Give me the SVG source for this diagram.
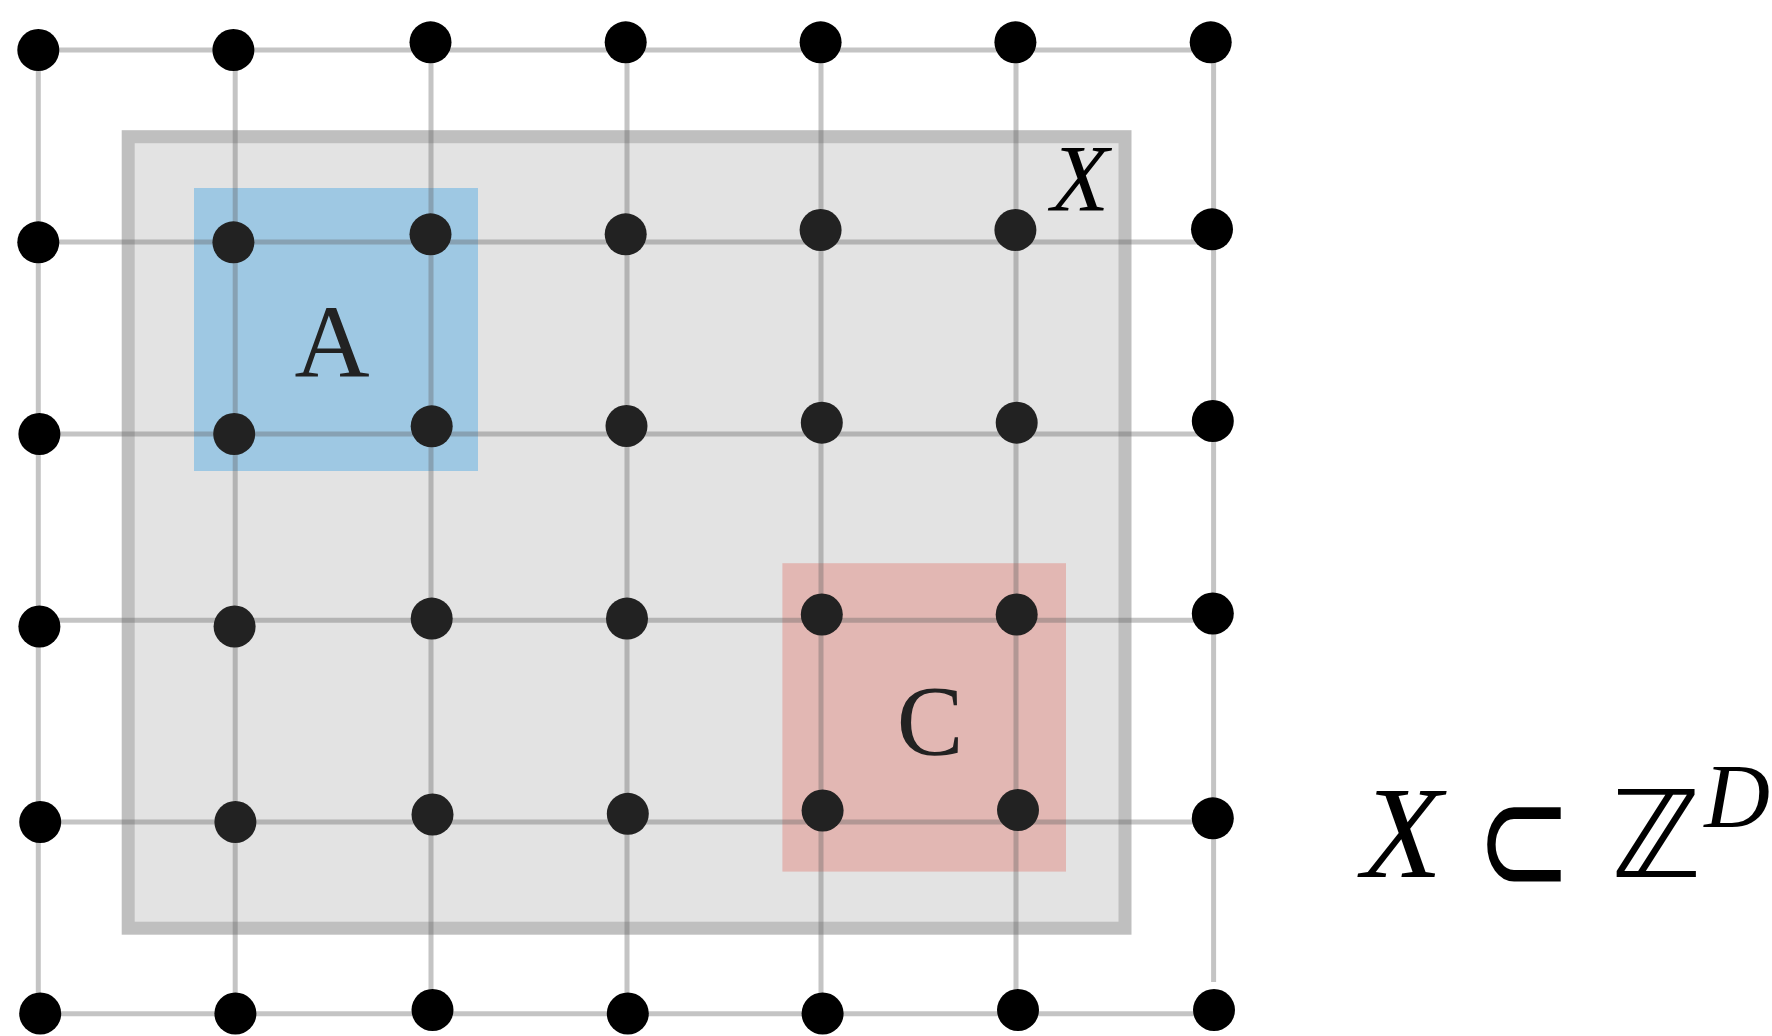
<svg xmlns="http://www.w3.org/2000/svg" width="1772" height="1036" viewBox="0 0 1772 1036">
<style>
.lbl{font-family:'Liberation Serif','Times New Roman',serif;fill:#222}
.it{font-family:'Liberation Serif','Times New Roman',serif;font-style:italic;fill:#000}
.out{fill:#000}
.in{fill:#222}
</style>
<rect width="1772" height="1036" fill="#fff"/>
<g id="region-X">
<rect x="128.2" y="136.7" width="996.8" height="791.5" fill="#e3e3e3" stroke="#bfbfbf" stroke-width="13"/>
</g>
<g id="region-A">
<rect x="194" y="188" width="284" height="283" fill="#9ec8e3"/>
</g>
<g id="region-C">
<rect x="782.4" y="563.2" width="283.6" height="308.4" fill="#e2b7b3"/>
</g>
<g id="connectors" stroke="#5f5f5f" stroke-width="5" opacity="0.36" fill="none">
<line x1="38.3" y1="50" x2="1211" y2="50"/>
<line x1="38.3" y1="242" x2="1212" y2="242"/>
<line x1="39.4" y1="434" x2="1212" y2="434"/>
<line x1="39.4" y1="620.3" x2="1212" y2="620.3"/>
<line x1="40.2" y1="822" x2="1212" y2="822"/>
<line x1="40.2" y1="1013.8" x2="1213" y2="1013.8"/>
<line x1="38.3" y1="50" x2="38.3" y2="1013.8"/>
<line x1="235.2" y1="50" x2="235.2" y2="1013.8"/>
<line x1="431" y1="42" x2="431" y2="1013.8"/>
<line x1="627" y1="42" x2="627" y2="1013.8"/>
<line x1="821" y1="42" x2="821" y2="1013.8"/>
<line x1="1016" y1="42" x2="1016" y2="1013.8"/>
<line x1="1213.6" y1="42" x2="1213.6" y2="982"/>
</g>
<g id="nodes">
<g id="n-0-0"><circle class="out" cx="38.3" cy="50" r="21"/></g>
<g id="n-0-1"><circle class="out" cx="233.4" cy="50" r="21"/></g>
<g id="n-0-2"><circle class="out" cx="430.5" cy="42.3" r="21"/></g>
<g id="n-0-3"><circle class="out" cx="625.7" cy="42.3" r="21"/></g>
<g id="n-0-4"><circle class="out" cx="820.6" cy="42.3" r="21"/></g>
<g id="n-0-5"><circle class="out" cx="1015.4" cy="42.3" r="21"/></g>
<g id="n-0-6"><circle class="out" cx="1210.7" cy="42.3" r="21"/></g>
<g id="n-1-0"><circle class="out" cx="38.3" cy="242.3" r="21"/></g>
<g id="n-1-1"><circle class="in" cx="233.4" cy="242.3" r="21"/></g>
<g id="n-1-2"><circle class="in" cx="430.5" cy="234.3" r="21"/></g>
<g id="n-1-3"><circle class="in" cx="625.7" cy="234.3" r="21"/></g>
<g id="n-1-4"><circle class="in" cx="820.6" cy="230" r="21"/></g>
<g id="n-1-5"><circle class="in" cx="1015.4" cy="230" r="21"/></g>
<g id="n-1-6"><circle class="out" cx="1212" cy="229.3" r="21"/></g>
<g id="n-2-0"><circle class="out" cx="39.4" cy="434" r="21"/></g>
<g id="n-2-1"><circle class="in" cx="234.2" cy="434" r="21"/></g>
<g id="n-2-2"><circle class="in" cx="431.7" cy="426.3" r="21"/></g>
<g id="n-2-3"><circle class="in" cx="626.5" cy="426" r="21"/></g>
<g id="n-2-4"><circle class="in" cx="821.8" cy="422.7" r="21"/></g>
<g id="n-2-5"><circle class="in" cx="1016.7" cy="422.7" r="21"/></g>
<g id="n-2-6"><circle class="out" cx="1212.8" cy="421" r="21"/></g>
<g id="n-3-0"><circle class="out" cx="39.4" cy="626.5" r="21"/></g>
<g id="n-3-1"><circle class="in" cx="234.6" cy="626.5" r="21"/></g>
<g id="n-3-2"><circle class="in" cx="431.7" cy="618.6" r="21"/></g>
<g id="n-3-3"><circle class="in" cx="627" cy="618.6" r="21"/></g>
<g id="n-3-4"><circle class="in" cx="821.8" cy="614.5" r="21"/></g>
<g id="n-3-5"><circle class="in" cx="1016.7" cy="614.5" r="21"/></g>
<g id="n-3-6"><circle class="out" cx="1212.8" cy="613.5" r="21"/></g>
<g id="n-4-0"><circle class="out" cx="40.2" cy="822" r="21"/></g>
<g id="n-4-1"><circle class="in" cx="235.4" cy="822" r="21"/></g>
<g id="n-4-2"><circle class="in" cx="432.5" cy="814.5" r="21"/></g>
<g id="n-4-3"><circle class="in" cx="627.8" cy="813.8" r="21"/></g>
<g id="n-4-4"><circle class="in" cx="822.6" cy="810.5" r="21"/></g>
<g id="n-4-5"><circle class="in" cx="1018" cy="810" r="21"/></g>
<g id="n-4-6"><circle class="out" cx="1212.8" cy="818.3" r="21"/></g>
<g id="n-5-0"><circle class="out" cx="40.2" cy="1013.5" r="21"/></g>
<g id="n-5-1"><circle class="out" cx="235.4" cy="1013.5" r="21"/></g>
<g id="n-5-2"><circle class="out" cx="432.5" cy="1010" r="21"/></g>
<g id="n-5-3"><circle class="out" cx="627.8" cy="1013.5" r="21"/></g>
<g id="n-5-4"><circle class="out" cx="822.6" cy="1013.5" r="21"/></g>
<g id="n-5-5"><circle class="out" cx="1018" cy="1010" r="21"/></g>
<g id="n-5-6"><circle class="out" cx="1214" cy="1010" r="21"/></g>
</g>
<g id="labels">
<text class="lbl" x="332" y="377" font-size="104" text-anchor="middle">A</text>
<text class="lbl" x="930" y="754" font-size="100" text-anchor="middle">C</text>
<text class="it" x="1080" y="211" font-size="95" text-anchor="middle">X</text>
</g>
<g id="formula">
<text class="it" x="1402" y="877" font-size="132" text-anchor="middle">X</text>
<text transform="translate(1524,894) scale(0.92,1.27)" font-size="125" text-anchor="middle" font-family="DejaVu Sans,sans-serif" fill="#000">⊂</text>
<text x="1656" y="877" font-size="121" text-anchor="middle" font-family="DejaVu Sans,sans-serif" fill="#000">ℤ</text>
<text class="it" x="1737" y="827" font-size="91" text-anchor="middle">D</text>
</g>
</svg>
